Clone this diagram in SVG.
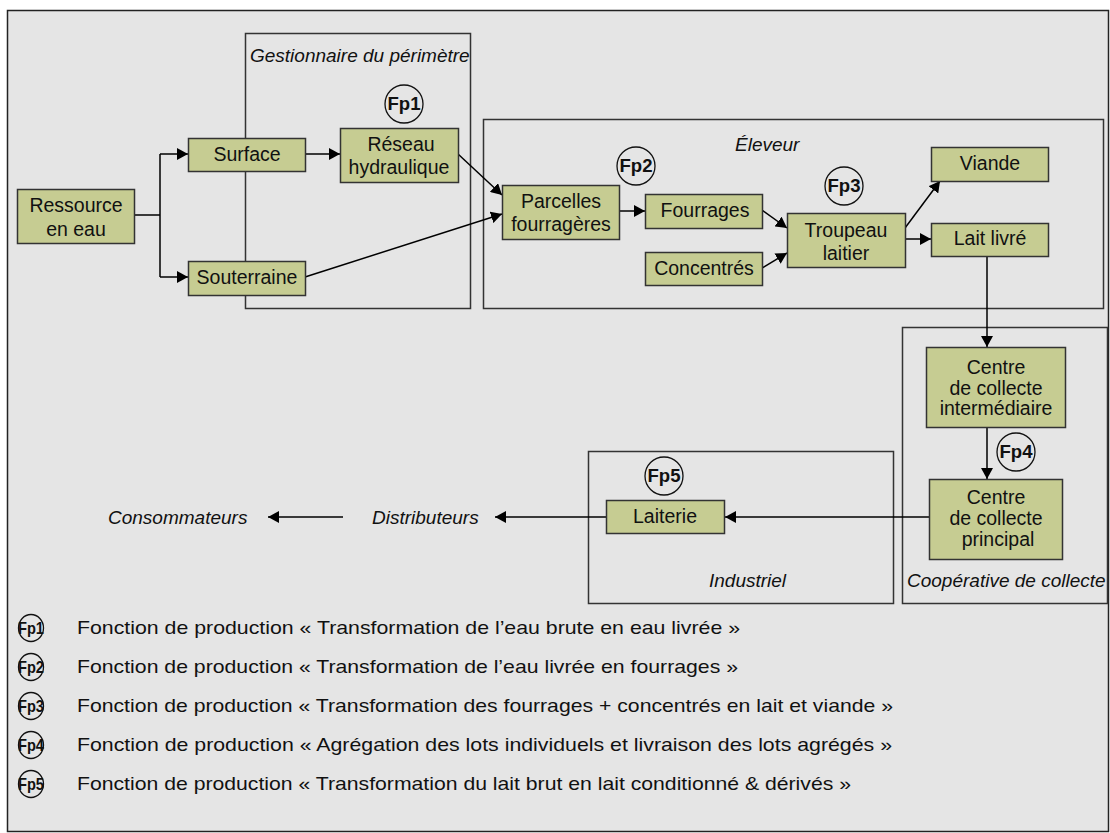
<svg xmlns="http://www.w3.org/2000/svg" width="1110" height="833" viewBox="0 0 1110 833">
<defs>
<marker id="arr" markerUnits="userSpaceOnUse" markerWidth="12" markerHeight="12" refX="11" refY="6" orient="auto">
<path d="M0,0 L11,6 L0,12 z" fill="#000"/>
</marker>
<style>
.frame{fill:#e5e5e5;stroke:#222;stroke-width:1.5}
.grp{fill:none;stroke:#333;stroke-width:1.5}
.node{fill:#c6cc92;stroke:#333;stroke-width:1.5}
.t{font-family:"Liberation Sans",Arial,sans-serif;font-size:19.5px;fill:#111;text-anchor:middle}
.gi{font-family:"Liberation Sans",Arial,sans-serif;font-size:19px;font-style:italic;fill:#111}
.fp{fill:#e5e5e5;stroke:#111;stroke-width:1.3}
.fpt{font-family:"Liberation Sans",Arial,sans-serif;font-size:18px;font-weight:bold;fill:#111;text-anchor:middle}
.fpl{font-family:"Liberation Sans",Arial,sans-serif;font-size:17px;font-weight:bold;fill:#111;text-anchor:middle}
.lt{font-family:"Liberation Sans",Arial,sans-serif;font-size:19px;fill:#111}
.c{fill:none;stroke:#000;stroke-width:1.5}
</style>
</defs>
<rect class="frame" x="7.5" y="10.5" width="1101" height="821"/>

<g id="groups">
<g id="g-gestionnaire"><rect class="grp" x="245.5" y="33.5" width="225" height="275"/><text class="gi" x="250" y="62">Gestionnaire du périmètre</text></g>
<g id="g-eleveur"><rect class="grp" x="483.5" y="119.5" width="620" height="189"/><text class="gi" x="735" y="151">Éleveur</text></g>
<g id="g-cooperative"><rect class="grp" x="902.5" y="327.5" width="205" height="276"/><text class="gi" x="907" y="587">Coopérative de collecte</text></g>
<g id="g-industriel"><rect class="grp" x="588.5" y="451.5" width="305" height="152"/><text class="gi" x="709" y="587">Industriel</text></g>
</g>

<g id="connectors">
<path class="c" d="M134,215 H160 M160,154 V277"/>
<path class="c" d="M160,154 H188" marker-end="url(#arr)"/>
<path class="c" d="M160,277 H188" marker-end="url(#arr)"/>
<path class="c" d="M305,154 H340" marker-end="url(#arr)"/>
<path class="c" d="M458,154 L502,195" marker-end="url(#arr)"/>
<path class="c" d="M305,277 L502,214" marker-end="url(#arr)"/>
<path class="c" d="M619,211 H645" marker-end="url(#arr)"/>
<path class="c" d="M762,210 L787,228" marker-end="url(#arr)"/>
<path class="c" d="M762,268 L787,253" marker-end="url(#arr)"/>
<path class="c" d="M905,228 L940,181" marker-end="url(#arr)"/>
<path class="c" d="M905,239 H931" marker-end="url(#arr)"/>
<path class="c" d="M987,256 V347" marker-end="url(#arr)"/>
<path class="c" d="M987,427 V479" marker-end="url(#arr)"/>
<path class="c" d="M929,517 H725" marker-end="url(#arr)"/>
<path class="c" d="M606,517 H495" marker-end="url(#arr)"/>
<path class="c" d="M343,517 H268" marker-end="url(#arr)"/>
</g>

<g id="n-ressource"><rect class="node" x="17.5" y="189.5" width="117" height="54"/><text class="t" x="76" y="212">Ressource</text><text class="t" x="76" y="236">en eau</text></g>
<g id="n-surface"><rect class="node" x="188.5" y="138.5" width="117" height="33"/><text class="t" x="247" y="161">Surface</text></g>
<g id="n-souterraine"><rect class="node" x="188.5" y="261.5" width="117" height="34"/><text class="t" x="247" y="284">Souterraine</text></g>
<g id="n-reseau"><rect class="node" x="340.5" y="128.5" width="118" height="54"/><text class="t" x="401" y="151">Réseau</text><text class="t" x="399" y="174">hydraulique</text></g>
<g id="n-parcelles"><rect class="node" x="502.5" y="185.5" width="117" height="54"/><text class="t" x="561" y="208">Parcelles</text><text class="t" x="561" y="231">fourragères</text></g>
<g id="n-fourrages"><rect class="node" x="645.5" y="194.5" width="117" height="34"/><text class="t" x="705" y="217">Fourrages</text></g>
<g id="n-concentres"><rect class="node" x="645.5" y="252.5" width="117" height="33"/><text class="t" x="704" y="275">Concentrés</text></g>
<g id="n-troupeau"><rect class="node" x="787.5" y="213.5" width="118" height="54"/><text class="t" x="846" y="237">Troupeau</text><text class="t" x="846" y="260">laitier</text></g>
<g id="n-viande"><rect class="node" x="931.5" y="147.5" width="117" height="34"/><text class="t" x="990" y="170">Viande</text></g>
<g id="n-lait"><rect class="node" x="931.5" y="223.5" width="117" height="33"/><text class="t" x="990" y="245">Lait livré</text></g>
<g id="n-centre-int"><rect class="node" x="926.5" y="347.5" width="139" height="80"/><text class="t" x="996" y="374">Centre</text><text class="t" x="996" y="395">de collecte</text><text class="t" x="996" y="415">intermédiaire</text></g>
<g id="n-centre-princ"><rect class="node" x="929.5" y="479.5" width="133" height="80"/><text class="t" x="996" y="504">Centre</text><text class="t" x="996" y="525">de collecte</text><text class="t" x="998" y="546">principal</text></g>
<g id="n-laiterie"><rect class="node" x="606.5" y="500.5" width="118" height="33"/><text class="t" x="665" y="523">Laiterie</text></g>
<g id="n-distributeurs"><text class="gi" x="372" y="524">Distributeurs</text></g>
<g id="n-consommateurs"><text class="gi" x="108" y="524">Consommateurs</text></g>

<g id="fp-markers">
<g id="fp1"><circle class="fp" cx="404" cy="104" r="19"/><text class="fpt" x="404" y="110" textLength="33" lengthAdjust="spacingAndGlyphs">Fp1</text></g>
<g id="fp2"><circle class="fp" cx="636" cy="166" r="19"/><text class="fpt" x="636" y="172" textLength="33" lengthAdjust="spacingAndGlyphs">Fp2</text></g>
<g id="fp3"><circle class="fp" cx="844" cy="186" r="19"/><text class="fpt" x="844" y="192" textLength="33" lengthAdjust="spacingAndGlyphs">Fp3</text></g>
<g id="fp4"><circle class="fp" cx="1016" cy="452" r="19"/><text class="fpt" x="1016" y="458" textLength="33" lengthAdjust="spacingAndGlyphs">Fp4</text></g>
<g id="fp5"><circle class="fp" cx="664" cy="476" r="19"/><text class="fpt" x="664" y="482" textLength="33" lengthAdjust="spacingAndGlyphs">Fp5</text></g>
</g>

<g id="legend">
<g id="leg1"><ellipse class="fp" cx="31" cy="628" rx="12.5" ry="13.5"/><text class="fpl" x="31" y="634" textLength="26" lengthAdjust="spacingAndGlyphs">Fp1</text><text class="lt" x="77" y="634" textLength="663" lengthAdjust="spacingAndGlyphs">Fonction de production « Transformation de l’eau brute en eau livrée »</text></g>
<g id="leg2"><ellipse class="fp" cx="31" cy="667" rx="12.5" ry="13.5"/><text class="fpl" x="31" y="673" textLength="26" lengthAdjust="spacingAndGlyphs">Fp2</text><text class="lt" x="77" y="673" textLength="661" lengthAdjust="spacingAndGlyphs">Fonction de production « Transformation de l’eau livrée en fourrages »</text></g>
<g id="leg3"><ellipse class="fp" cx="31" cy="706" rx="12.5" ry="13.5"/><text class="fpl" x="31" y="712" textLength="26" lengthAdjust="spacingAndGlyphs">Fp3</text><text class="lt" x="77" y="712" textLength="816" lengthAdjust="spacingAndGlyphs">Fonction de production « Transformation des fourrages + concentrés en lait et viande »</text></g>
<g id="leg4"><ellipse class="fp" cx="31" cy="745" rx="12.5" ry="13.5"/><text class="fpl" x="31" y="751" textLength="26" lengthAdjust="spacingAndGlyphs">Fp4</text><text class="lt" x="77" y="751" textLength="815" lengthAdjust="spacingAndGlyphs">Fonction de production « Agrégation des lots individuels et livraison des lots agrégés »</text></g>
<g id="leg5"><ellipse class="fp" cx="31" cy="784" rx="12.5" ry="13.5"/><text class="fpl" x="31" y="790" textLength="26" lengthAdjust="spacingAndGlyphs">Fp5</text><text class="lt" x="77" y="790" textLength="774" lengthAdjust="spacingAndGlyphs">Fonction de production « Transformation du lait brut en lait conditionné &amp; dérivés »</text></g>
</g>
</svg>
